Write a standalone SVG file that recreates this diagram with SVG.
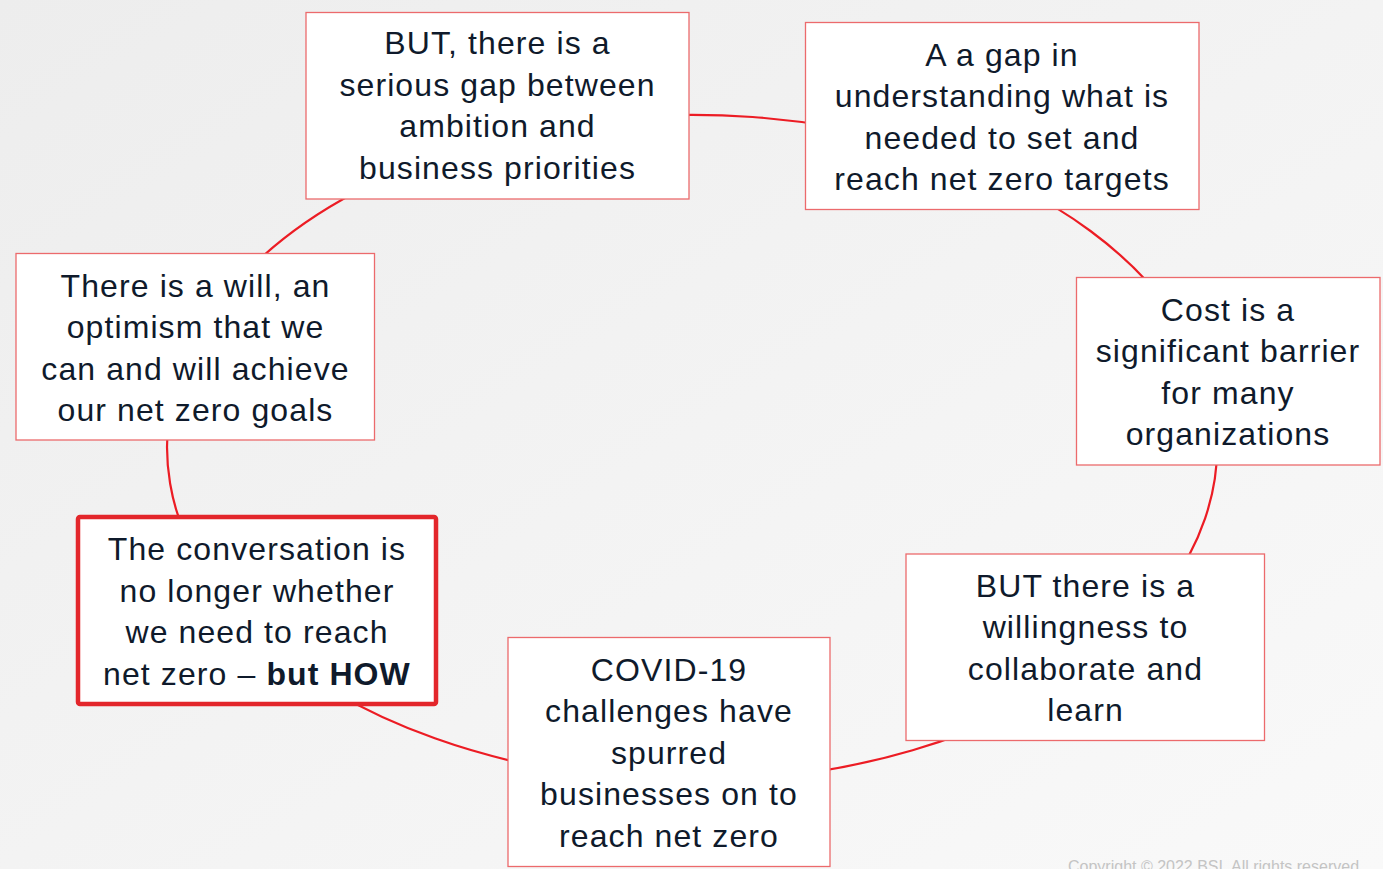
<svg xmlns="http://www.w3.org/2000/svg" width="1383" height="869" viewBox="0 0 1383 869">
<defs>
<linearGradient id="bg" x1="0" y1="0" x2="1" y2="1">
<stop offset="0" stop-color="#ededed"/>
<stop offset="1" stop-color="#f9f9f9"/>
</linearGradient>
<style>
.box{fill:#ffffff;stroke:#ec6a6c;stroke-width:1.3}
.hl{fill:#ffffff;stroke:#e3262b;stroke-width:4.5}
.t{font-family:"Liberation Sans",Arial,sans-serif;font-size:32px;fill:#0f1a2b;text-anchor:middle;letter-spacing:1.1px}
.c{fill:none;stroke:#ec1c24;stroke-width:2.2}
.copy{font-family:"Liberation Sans",Arial,sans-serif;font-size:16px;fill:#c4c4c4}
</style>
</defs>
<rect width="1383" height="869" fill="url(#bg)"/>
<g id="connectors">
<path class="c" d="M600 120 A525 333 0 0 1 900 142"/>
<path class="c" d="M900 142 A525 333 0 0 1 1200 364"/>
<path class="c" d="M1200 364 A525 333 0 0 1 1100 657.5"/>
<path class="c" d="M1100 657.5 A525 333 0 0 1 680 781"/>
<path class="c" d="M680 781 A525 333 0 0 1 250 627.6"/>
<path class="c" d="M250 627.6 A525 333 0 0 1 200 332"/>
<path class="c" d="M200 332 A525 333 0 0 1 600 120"/>
</g>
<g id="n1">
<rect class="box" x="306" y="12.5" width="383" height="186.5"/>
<text class="t" x="497.5" y="54">BUT, there is a</text>
<text class="t" x="497.5" y="95.5">serious gap between</text>
<text class="t" x="497.5" y="137">ambition and</text>
<text class="t" x="497.5" y="178.5">business priorities</text>
</g>
<g id="n2">
<rect class="box" x="805.5" y="22.5" width="393.5" height="187"/>
<text class="t" x="1002" y="65.5">A a gap in</text>
<text class="t" x="1002" y="107">understanding what is</text>
<text class="t" x="1002" y="148.5">needed to set and</text>
<text class="t" x="1002" y="190">reach net zero targets</text>
</g>
<g id="n3">
<rect class="box" x="1076.5" y="277.5" width="303.5" height="187.5"/>
<text class="t" x="1228" y="320.5">Cost is a</text>
<text class="t" x="1228" y="362">significant barrier</text>
<text class="t" x="1228" y="403.5">for many</text>
<text class="t" x="1228" y="445">organizations</text>
</g>
<g id="n4">
<rect class="box" x="906" y="554" width="358.5" height="186.5"/>
<text class="t" x="1085.5" y="596.5">BUT there is a</text>
<text class="t" x="1085.5" y="638">willingness to</text>
<text class="t" x="1085.5" y="679.5">collaborate and</text>
<text class="t" x="1085.5" y="721">learn</text>
</g>
<g id="n5">
<rect class="box" x="508" y="637.5" width="322" height="229"/>
<text class="t" x="669" y="680.5">COVID-19</text>
<text class="t" x="669" y="722">challenges have</text>
<text class="t" x="669" y="763.5">spurred</text>
<text class="t" x="669" y="805">businesses on to</text>
<text class="t" x="669" y="846.5">reach net zero</text>
</g>
<g id="n6">
<rect class="hl" x="78" y="517" width="358" height="187" rx="2"/>
<text class="t" x="257" y="560">The conversation is</text>
<text class="t" x="257" y="601.5">no longer whether</text>
<text class="t" x="257" y="643">we need to reach</text>
<text class="t" x="257" y="684.5">net zero – <tspan font-weight="bold">but HOW</tspan></text>
</g>
<g id="n7">
<rect class="box" x="16" y="253.5" width="358.5" height="186.5"/>
<text class="t" x="195.5" y="296.5">There is a will, an</text>
<text class="t" x="195.5" y="338">optimism that we</text>
<text class="t" x="195.5" y="379.5">can and will achieve</text>
<text class="t" x="195.5" y="421">our net zero goals</text>
</g>
<text class="copy" x="1068" y="872">Copyright © 2022 BSI. All rights reserved.</text>
</svg>
